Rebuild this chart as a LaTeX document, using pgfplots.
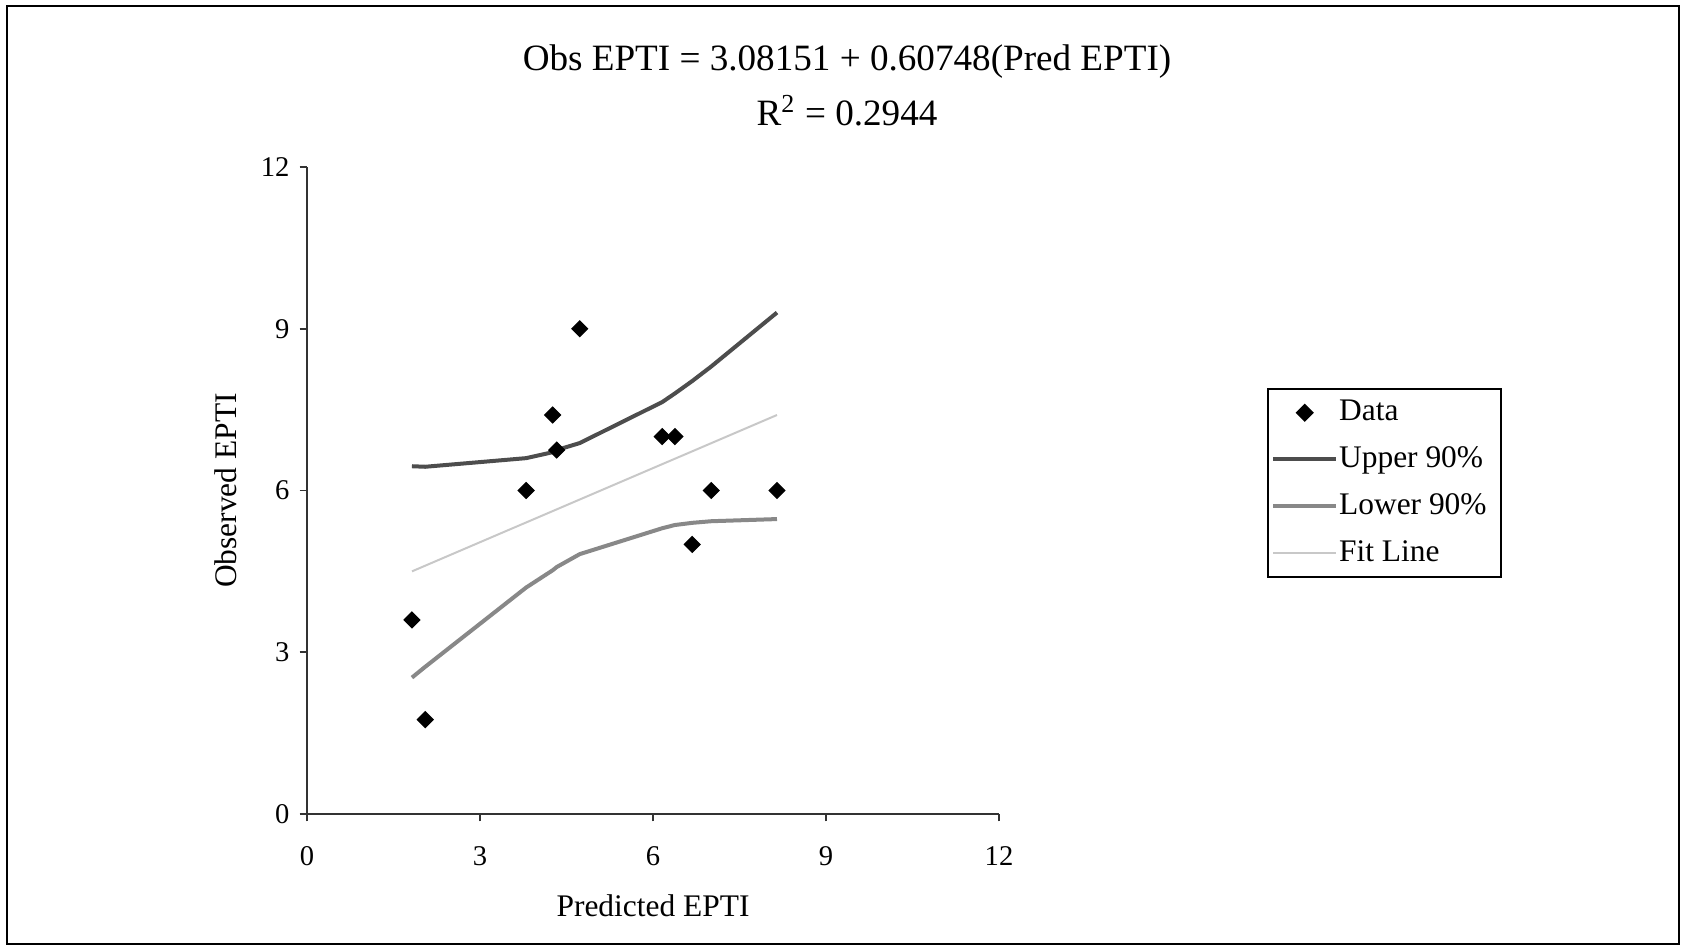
\documentclass[border=0pt]{standalone}
\usepackage{fontspec}
\setmainfont{Liberation Serif}
\usepackage{pgfplots}
\pgfplotsset{compat=1.18}
\definecolor{upc}{HTML}{4D4D4D}
\definecolor{loc}{HTML}{888888}
\definecolor{fitc}{HTML}{C8C8C8}
\pgfplotsset{
    lineleg/.style={legend image code/.code={\path[draw=none, fill=none] (0pt,-2pt) rectangle (19.95pt,2pt); \draw[##1, overlay] (-1.1pt,0pt) -- (20.9pt,0pt);}},
    markleg/.style={legend image code/.code={\path[draw=none, fill=none] (0pt,-2pt) rectangle (19.95pt,2pt); \draw[##1, mark repeat=2, mark phase=2] plot coordinates {(-1.1pt,0pt) (9.9pt,0pt) (20.9pt,0pt)};}},
}
\begin{document}
\begin{tikzpicture}
\useasboundingbox (0pt,0pt) rectangle (588.7pt,331.45pt);
\draw[line width=0.6pt] (2.45pt,1.05pt) rectangle (587.65pt,329.35pt);
\node[font=\fontsize{13}{15}\selectfont] at (296.45pt,310pt) {Obs EPTI = 3.08151 + 0.60748(Pred EPTI)};
\node[font=\fontsize{13}{15}\selectfont] at (296.45pt,292.75pt) {R\textsuperscript{2} = 0.2944};
\begin{axis}[
    at={(107.45pt,46.55pt)}, anchor=south west,
    scale only axis, width=242.2pt, height=226.45pt,
    xmin=0, xmax=12, ymin=0, ymax=12,
    xtick={0,3,6,9,12}, ytick={0,3,6,9,12},
    axis x line*=bottom, axis y line*=left,
    axis line style={-, line width=0.6pt, black!80},
    tick align=outside, major tick length=2.6pt,
    tick style={line width=0.6pt, black!80},
    /pgf/number format/assume math mode=true,
    ticklabel style={font=\fontsize{10}{12}\selectfont},
    xticklabel style={yshift=-5.25pt},
    label style={font=\fontsize{11}{13}\selectfont},
    xlabel={Predicted EPTI}, ylabel={Observed EPTI},
    xlabel style={at={(axis description cs:0.5,-0.1422)}, anchor=center},
    ylabel style={at={(axis description cs:-0.1173,0.5)}, anchor=center},
    legend style={at={(axis description cs:1.3873,0.6584)}, anchor=north west,
        draw=black, line width=0.6pt, font=\fontsize{11}{13}\selectfont,
        row sep=3.6pt, legend cell align=left},
]
\addplot[only marks, mark=square*, mark size=1.95pt, mark options={rotate=45, fill=black, draw=black}, markleg]
    coordinates {
    (1.82,3.60) (2.05,1.75) (3.80,6.00) (4.26,7.40) (4.33,6.75) (4.73,9.00)
    (6.16,7.00) (6.38,7.00) (6.68,5.00) (7.01,6.00) (8.15,6.00)
};
\addlegendentry{Data}
\addplot[upc, line width=1.4pt, no marks, lineleg] coordinates {
    (1.82,6.45) (2.05,6.44) (3.80,6.60) (4.26,6.71) (4.33,6.75) (4.73,6.88)
    (6.16,7.64) (6.38,7.80) (6.68,8.03) (7.01,8.30) (8.15,9.30)
};
\addlegendentry{Upper 90\%}
\addplot[loc, line width=1.4pt, no marks, lineleg] coordinates {
    (1.82,2.53) (2.05,2.73) (3.80,4.20) (4.26,4.52) (4.33,4.58) (4.73,4.82)
    (6.16,5.30) (6.38,5.36) (6.68,5.40) (7.01,5.43) (8.15,5.47)
};
\addlegendentry{Lower 90\%}
\addplot[fitc, line width=0.7pt, no marks, lineleg] coordinates {
    (1.82,4.50) (8.15,7.40)
};
\addlegendentry{Fit Line}
\end{axis}
\end{tikzpicture}
\end{document}
